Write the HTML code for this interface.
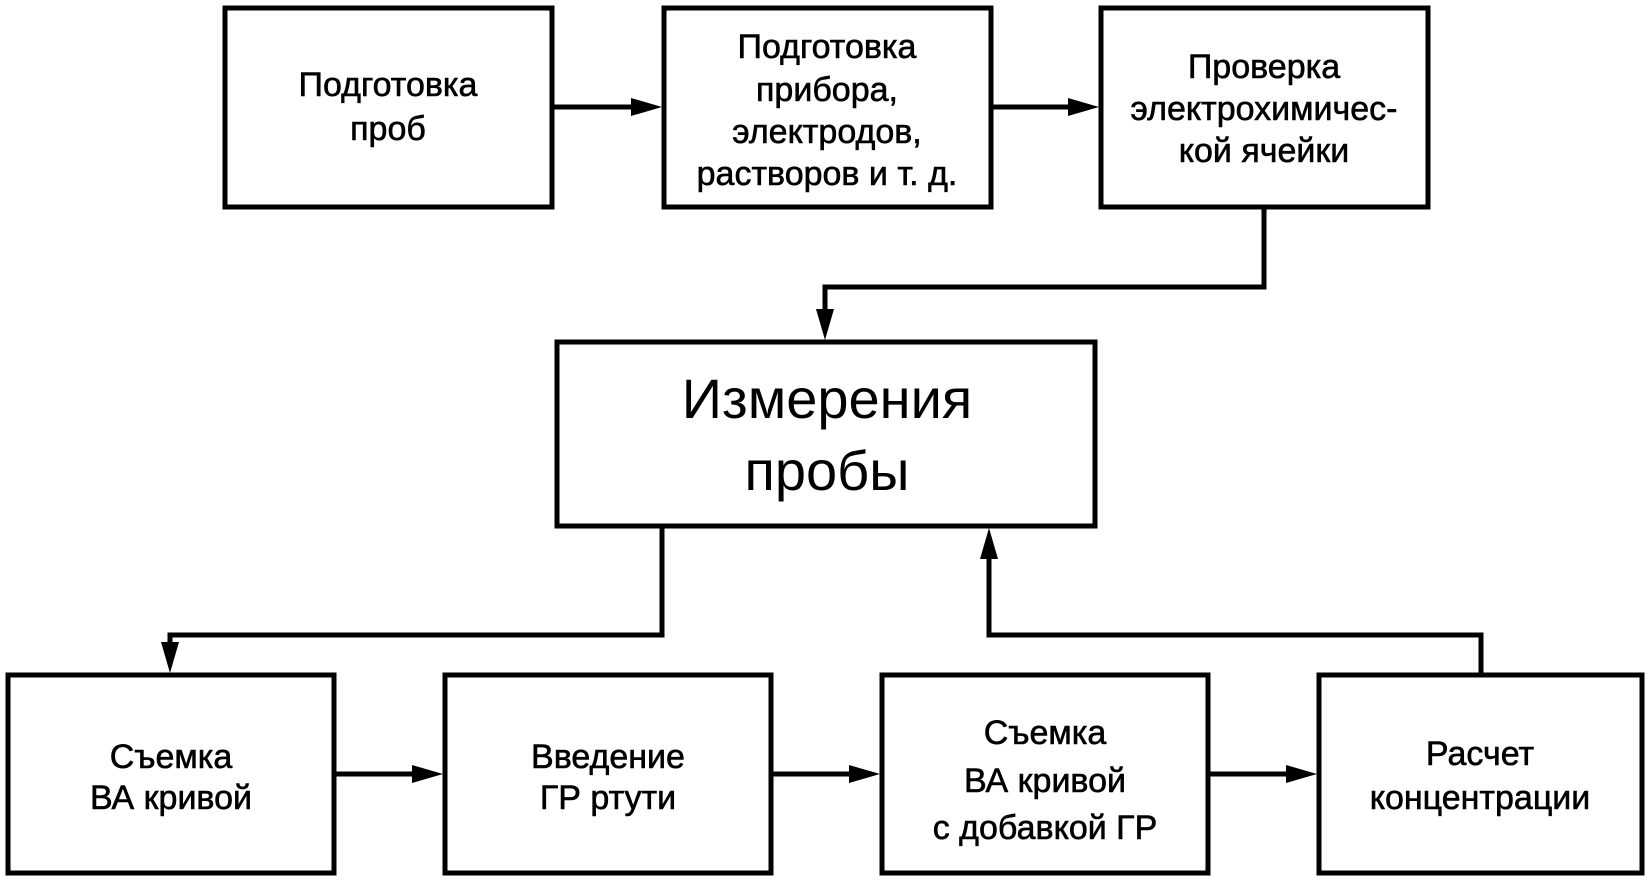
<!DOCTYPE html>
<html><head><meta charset="utf-8"><style>
html,body{margin:0;padding:0;background:#fff;}
svg{display:block;}
text{font-family:"Liberation Sans",Arial,sans-serif;fill:#000;text-anchor:middle;}
.s{stroke:#000;stroke-width:0.6;}
</style></head><body>
<svg width="1652" height="880" viewBox="0 0 1652 880" xmlns="http://www.w3.org/2000/svg">
<g fill="none" stroke="#000" stroke-width="5">
<rect x="225" y="8" width="327" height="199"/>
<rect x="664" y="8" width="327" height="199"/>
<rect x="1101" y="8" width="327" height="199"/>
<rect x="557" y="342" width="538" height="184"/>
<rect x="8" y="675" width="326" height="198"/>
<rect x="445" y="675" width="326" height="198"/>
<rect x="882" y="675" width="326" height="198"/>
<rect x="1319" y="675" width="323" height="198"/>
<path d="M552 107 H634"/>
<path d="M991 107 H1071"/>
<path d="M1264 207 V287 H825 V312"/>
<path d="M662 526 V635 H170 V645"/>
<path d="M1481 675 V635 H989 V556"/>
<path d="M334 774 H415"/>
<path d="M771 774 H852"/>
<path d="M1208 774 H1289"/>
</g>
<g fill="#000">
<polygon points="662,107 631,98 631,116"/>
<polygon points="1099,107 1068,98 1068,116"/>
<polygon points="825,340 816,309 834,309"/>
<polygon points="170,673 161,642 179,642"/>
<polygon points="989,528 980,559 998,559"/>
<polygon points="443,774 412,765 412,783"/>
<polygon points="880,774 849,765 849,783"/>
<polygon points="1317,774 1286,765 1286,783"/>
</g>
<g font-size="34" class="s">
<text x="388" y="96">Подготовка</text>
<text x="388" y="140">проб</text>
<text x="827" y="58">Подготовка</text>
<text x="827" y="101">прибора,</text>
<text x="827" y="143">электродов,</text>
<text x="827" y="185">растворов и т. д.</text>
<text x="1264" y="78">Проверка</text>
<text x="1264" y="120">электрохимичес-</text>
<text x="1264" y="162">кой ячейки</text>
<text x="171" y="768">Съемка</text>
<text x="171" y="809">ВА кривой</text>
<text x="608" y="768">Введение</text>
<text x="608" y="809">ГР ртути</text>
<text x="1045" y="744">Съемка</text>
<text x="1045" y="792">ВА кривой</text>
<text x="1045" y="839">с добавкой ГР</text>
<text x="1480" y="765">Расчет</text>
<text x="1480" y="809">концентрации</text>
</g>
<g font-size="56">
<text x="827" y="418">Измерения</text>
<text x="827" y="490">пробы</text>
</g>
</svg>
</body></html>
